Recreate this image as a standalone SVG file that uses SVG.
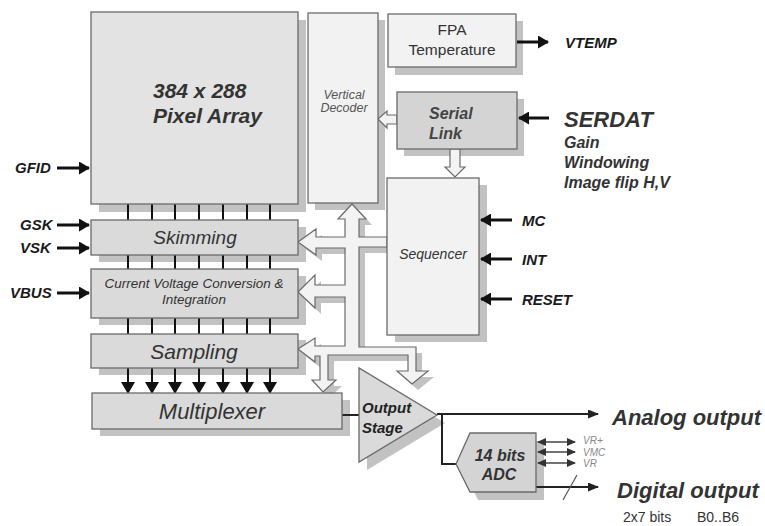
<svg xmlns="http://www.w3.org/2000/svg" width="765" height="526" viewBox="0 0 765 526">
<style>
text{font-family:"Liberation Sans",Arial,sans-serif;fill:#333}
.blk{stroke:#6a6a6a;stroke-width:1.3}
.sh{fill:#c2c2c2}
.lt{fill:#f2f2f2}
.md{fill:#dadada}
.lbl{font-weight:bold;font-style:italic;font-size:15px;fill:#1a1a1a}
.big{font-weight:bold;font-style:italic;font-size:22px;fill:#333}
.ref{font-style:italic;font-size:10px;fill:#888}
.in{stroke:#111;stroke-width:3;fill:none}
.bus{stroke:#111;stroke-width:2;fill:none}
.thin{stroke:#222;stroke-width:2;fill:none}
.rl{stroke:#444;stroke-width:1.6;fill:none}
</style>
<defs>
<marker id="ah" markerUnits="userSpaceOnUse" markerWidth="11" markerHeight="13" refX="10" refY="6.5" orient="auto"><path d="M0,0 L11,6.5 L0,13 z" fill="#111"/></marker>
<marker id="ahd" markerUnits="userSpaceOnUse" markerWidth="12" markerHeight="14" refX="11" refY="7" orient="auto"><path d="M0,0 L12,7 L0,14 z" fill="#111"/></marker>
<marker id="ahs" markerUnits="userSpaceOnUse" markerWidth="11" markerHeight="9" refX="10" refY="4.5" orient="auto"><path d="M0,0 L11,4.5 L0,9 z" fill="#222"/></marker>
<marker id="ahx" markerUnits="userSpaceOnUse" markerWidth="9" markerHeight="8" refX="8" refY="4" orient="auto-start-reverse"><path d="M0,0 L9,4 L0,8 z" fill="#333"/></marker>
</defs>

<!-- shadows -->
<g id="shadows">
<rect class="sh" x="99" y="20" width="207" height="192"/>
<rect class="sh" x="315" y="20" width="70" height="190"/>
<rect class="sh" x="395" y="21" width="128" height="54"/>
<rect class="sh" x="404" y="99" width="120" height="57"/>
<rect class="sh" x="395" y="185" width="92" height="157"/>
<rect class="sh" x="99" y="227" width="207" height="35"/>
<rect class="sh" x="99" y="276" width="207" height="49"/>
<rect class="sh" x="99" y="340" width="207" height="35"/>
<rect class="sh" x="100" y="400" width="250" height="36"/>
<polygon class="sh" points="367,376 367,470 445,423"/>
<polygon class="sh" points="464,471 478,441 544,441 544,500 478,500"/>
<polygon class="sh" transform="translate(6,6)" points="352,204 366,219 359,219 359,237 387,237 387,247 359,247 359,347 416,347 416,371 428,371 412,384 397,371 408,371 408,355 328,355 328,380 336,380 323,392 312,380 320,380 320,356 315,356 315,362 298,349 315,338 315,346 345,346 345,297 315,297 315,308 298,292 315,275 315,285 345,285 345,248 316,248 316,255 298,242 316,229 316,237 345,237 345,219 338,219"/>
</g>

<g id="connectors">
<polygon fill="#f3f3f3" stroke="#6a6a6a" stroke-width="1.2" points="352,204 366,219 359,219 359,237 387,237 387,247 359,247 359,347 416,347 416,371 428,371 412,384 397,371 408,371 408,355 328,355 328,380 336,380 323,392 312,380 320,380 320,356 315,356 315,362 298,349 315,338 315,346 345,346 345,297 315,297 315,308 298,292 315,275 315,285 345,285 345,248 316,248 316,255 298,242 316,229 316,237 345,237 345,219 338,219"/>
<polygon fill="#f3f3f3" stroke="#6a6a6a" stroke-width="1.2" points="397,115 387,115 387,111 378,119 387,128 387,124 397,124"/>
<polygon fill="#f3f3f3" stroke="#6a6a6a" stroke-width="1.2" points="450,149 460,149 460,167 465,167 455,177 445,167 450,167"/>

<path class="bus" d="M128,204V220M152,204V220M175,204V220M199,204V220M223,204V220M247,204V220M270,204V220"/>
<path class="bus" d="M128,255V269M152,255V269M175,255V269M199,255V269M223,255V269M247,255V269M270,255V269"/>
<path class="bus" d="M128,318V334M152,318V334M175,318V334M199,318V334M223,318V334M247,318V334M270,318V334"/>
<g marker-end="url(#ahd)">
<path class="bus" d="M128,368V393"/><path class="bus" d="M152,368V393"/><path class="bus" d="M175,368V393"/><path class="bus" d="M199,368V393"/><path class="bus" d="M223,368V393"/><path class="bus" d="M247,368V393"/><path class="bus" d="M270,368V393"/>
</g>

<path class="in" d="M57,168H89" marker-end="url(#ah)"/>
<path class="in" d="M57,225H89" marker-end="url(#ah)"/>
<path class="in" d="M57,248H89" marker-end="url(#ah)"/>
<path class="in" d="M57,293H89" marker-end="url(#ah)"/>
<path class="in" d="M517,42H548" marker-end="url(#ah)"/>
<path class="in" d="M549,118H519" marker-end="url(#ah)"/>
<path class="in" d="M512,220H481" marker-end="url(#ah)"/>
<path class="in" d="M512,259H481" marker-end="url(#ah)"/>
<path class="in" d="M512,299H481" marker-end="url(#ah)"/>

<path class="thin" d="M342,415H359"/>
<path class="thin" d="M437,414H598" marker-end="url(#ahs)"/>
<path class="thin" d="M442,415V464H456"/>
<path class="thin" d="M536,487H598" marker-end="url(#ahs)"/>
<path d="M563,500L577,475" stroke="#555" stroke-width="1.2"/>
<path class="rl" d="M538,442H575" marker-start="url(#ahx)" marker-end="url(#ahx)"/>
<path class="rl" d="M538,452H575" marker-start="url(#ahx)" marker-end="url(#ahx)"/>
<path class="rl" d="M538,463H575" marker-start="url(#ahx)" marker-end="url(#ahx)"/>
</g>

<g id="pixel-array">
<rect class="blk" x="91" y="12" width="207" height="192" fill="#e3e3e3"/>
<text x="153" y="98" style="font-weight:bold;font-style:italic;font-size:21px">384 x 288</text>
<text x="153" y="123" style="font-weight:bold;font-style:italic;font-size:21px">Pixel Array</text>
</g>
<g id="vertical-decoder">
<rect class="blk lt" x="308" y="13" width="70" height="190"/>
<text x="344" y="99" text-anchor="middle" style="font-style:italic;font-size:12.5px;fill:#555">Vertical</text>
<text x="344" y="112" text-anchor="middle" style="font-style:italic;font-size:12.5px;fill:#555">Decoder</text>
</g>
<g id="fpa-temperature">
<rect class="blk lt" x="388" y="14" width="128" height="53"/>
<text x="452" y="35" text-anchor="middle" style="font-size:15.5px">FPA</text>
<text x="452" y="55" text-anchor="middle" style="font-size:15.5px">Temperature</text>
</g>
<g id="serial-link">
<rect class="blk" x="397" y="92" width="120" height="57" fill="#d4d4d4"/>
<text x="429" y="119" style="font-weight:bold;font-style:italic;font-size:16px;fill:#444">Serial</text>
<text x="429" y="139" style="font-weight:bold;font-style:italic;font-size:16px;fill:#444">Link</text>
</g>
<g id="sequencer">
<rect class="blk lt" x="387" y="178" width="92" height="157"/>
<text x="433" y="259" text-anchor="middle" style="font-style:italic;font-size:14px">Sequencer</text>
</g>
<g id="skimming">
<rect class="blk md" x="91" y="220" width="207" height="35"/>
<text x="195" y="244" text-anchor="middle" style="font-style:italic;font-size:19px">Skimming</text>
</g>
<g id="conversion">
<rect class="blk md" x="91" y="269" width="207" height="49"/>
<text x="194" y="288" text-anchor="middle" style="font-style:italic;font-size:13.5px">Current Voltage Conversion &amp;</text>
<text x="194" y="304" text-anchor="middle" style="font-style:italic;font-size:13.5px">Integration</text>
</g>
<g id="sampling">
<rect class="blk md" x="91" y="334" width="207" height="34"/>
<text x="194" y="359" text-anchor="middle" style="font-style:italic;font-size:21px">Sampling</text>
</g>
<g id="multiplexer">
<rect class="blk md" x="92" y="393" width="250" height="36"/>
<text x="212" y="419" text-anchor="middle" style="font-style:italic;font-size:22px">Multiplexer</text>
</g>
<g id="output-stage">
<polygon class="blk md" points="359,368 359,462 437,415"/>
<text x="362" y="413" style="font-weight:bold;font-style:italic;font-size:15px;fill:#222">Output</text>
<text x="362" y="433" style="font-weight:bold;font-style:italic;font-size:15px;fill:#222">Stage</text>
</g>
<g id="adc">
<polygon class="blk" fill="#d4d4d4" points="456,464 470,433 536,433 536,492 470,492"/>
<text x="500" y="461" text-anchor="middle" style="font-weight:bold;font-style:italic;font-size:16px">14 bits</text>
<text x="499" y="480" text-anchor="middle" style="font-weight:bold;font-style:italic;font-size:16px">ADC</text>
</g>

<g id="labels">
<text class="lbl" x="15" y="173">GFID</text>
<text class="lbl" x="20" y="230">GSK</text>
<text class="lbl" x="20" y="253">VSK</text>
<text class="lbl" x="10" y="298">VBUS</text>
<text class="lbl" x="565" y="48">VTEMP</text>
<text class="big" x="564" y="127">SERDAT</text>
<text x="564" y="148" style="font-weight:bold;font-style:italic;font-size:16px">Gain</text>
<text x="564" y="168" style="font-weight:bold;font-style:italic;font-size:16px">Windowing</text>
<text x="564" y="188" style="font-weight:bold;font-style:italic;font-size:16px">Image flip H,V</text>
<text class="lbl" x="522" y="226">MC</text>
<text class="lbl" x="522" y="265">INT</text>
<text class="lbl" x="522" y="305">RESET</text>
<text class="big" x="612" y="425">Analog output</text>
<text class="big" x="617" y="498">Digital output</text>
<text class="ref" x="583" y="444">VR+</text>
<text class="ref" x="583" y="455.5">VMC</text>
<text class="ref" x="583" y="467">VR</text>
<text x="623" y="522" style="font-size:14px">2x7 bits</text>
<text x="697" y="522" style="font-size:14px">B0..B6</text>
</g>
</svg>
